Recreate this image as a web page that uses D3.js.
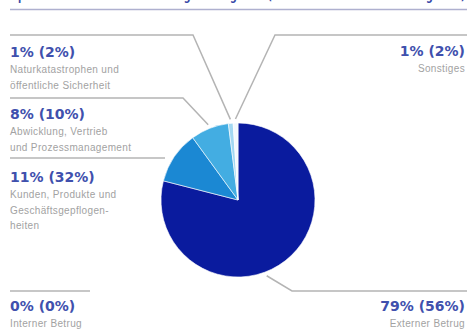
<!DOCTYPE html>
<html>
<head>
<meta charset="utf-8">
<script src="https://cdn.jsdelivr.net/npm/d3@7"></script>
<style>
  body { margin: 0; background: #fff; }
  svg { display: block; }
</style>
</head>
<body>
<script>
// categories in pie order, clockwise from 12 o'clock
var categories = [
    "Externer Betrug",
    "Interner Betrug",
    "Kunden, Produkte und Geschäftsgepflogenheiten",
    "Abwicklung, Vertrieb und Prozessmanagement",
    "Naturkatastrophen und öffentliche Sicherheit",
    "Sonstiges"
];
// share of losses (slice size) and share of events (in brackets)
var lossShare = [79, 0, 11, 8, 1, 1];
var eventShare = [56, 0, 32, 10, 2, 2];
// label text broken the way the original wraps it
var labelLines = [
    ["Externer Betrug"],
    ["Interner Betrug"],
    ["Kunden, Produkte und", "Geschäftsgepflogen-", "heiten"],
    ["Abwicklung, Vertrieb", "und Prozessmanagement"],
    ["Naturkatastrophen und", "öffentliche Sicherheit"],
    ["Sonstiges"]
];
var title = "Operationelle Verluste nach Ereigniskategorien (Anteil an der Anzahl der Ereignisse)";

var w = 467;
var h = 334;
var cx = 238, cy = 200, r = 77;

var colors = ["#0a1b9e", "#0a1b9e", "#1b88d3", "#43ade2", "#a2d8f2", "#f2f9fd"];

// where each label block sits (layout only)
var layout = [
    { side: "right", y: 311, lineY: 291, lineEnd: 292, elbow: [292, 291], at: 0.56 },
    { side: "left",  y: 311, lineY: 291, lineEnd: 90,  elbow: null,       at: 0.5 },
    { side: "left",  y: 182, lineY: 158, lineEnd: null, elbow: null,      at: 0.5 },
    { side: "left",  y: 119, lineY: 98,  lineEnd: 183, elbow: [183, 98],  at: 0.5 },
    { side: "left",  y: 57,  lineY: 35,  lineEnd: 193, elbow: [193, 35],  at: 0.5 },
    { side: "right", y: 56,  lineY: 35,  lineEnd: 275, elbow: [275, 35],  at: 0.5 }
];

var svg = d3.select("body").append("svg")
    .attr("width", w)
    .attr("height", h);

// title, cropped off at the top like the original
svg.append("text")
    .attr("x", 10)
    .attr("y", 0)
    .attr("textLength", 455)
    .attr("lengthAdjust", "spacingAndGlyphs")
    .attr("font-family", "DejaVu Sans")
    .attr("font-weight", "bold")
    .attr("font-size", "13px")
    .attr("fill", "#3a4aa8")
    .text(title);

svg.append("line")
    .attr("x1", 10).attr("x2", w)
    .attr("y1", 9.5).attr("y2", 9.5)
    .attr("stroke", "#aeb0cf")
    .attr("stroke-width", 1.5);

var pie = d3.pie().sort(null).value(function(d) { return d; });
var arcs = pie(lossShare);

var arc = d3.arc().innerRadius(0).outerRadius(r);

// point on the rim used by the leader lines
function anchor(d, i) {
    var a = d.startAngle + (d.endAngle - d.startAngle) * layout[i].at;
    var rr = r + 4;
    return [cx + rr * Math.sin(a), cy - rr * Math.cos(a)];
}

// leader lines (under the pie)
var leaders = svg.append("g")
    .attr("fill", "none")
    .attr("stroke", "#b4b4b4")
    .attr("stroke-width", 1.5);

arcs.forEach(function(d, i) {
    var L = layout[i];
    var pts;
    if (i === 1) {
        pts = [[10, L.lineY], [L.lineEnd, L.lineY]];
    } else if (L.side === "left") {
        var p = anchor(d, i);
        if (L.elbow) pts = [[10, L.lineY], L.elbow, p];
        else pts = [[10, L.lineY], [p[0] - 6, L.lineY]];
    } else {
        var p = anchor(d, i);
        pts = [[w, L.lineY], L.elbow, p];
    }
    leaders.append("path").attr("d", d3.line()(pts));
});

var g = svg.append("g")
    .attr("transform", "translate(" + cx + "," + cy + ")");

g.selectAll("path")
    .data(arcs)
    .enter()
    .append("path")
    .attr("d", arc)
    .attr("fill", function(d, i) { return colors[i]; })
    .attr("stroke", "#fff")
    .attr("stroke-width", function(d) { return d.value > 0 ? 0.6 : 0; });

// label blocks
var labels = svg.selectAll("g.label")
    .data(categories)
    .enter()
    .append("g")
    .attr("class", "label")
    .attr("text-anchor", function(d, i) { return layout[i].side === "left" ? "start" : "end"; })
    .attr("transform", function(d, i) {
        return "translate(" + (layout[i].side === "left" ? 10 : 465) + "," + layout[i].y + ")";
    });

labels.append("text")
    .attr("font-family", "DejaVu Sans")
    .attr("font-weight", "bold")
    .attr("font-size", "14px")
    .attr("fill", "#4050ad")
    .text(function(d, i) { return lossShare[i] + "% (" + eventShare[i] + "%)"; });

labels.each(function(d, i) {
    var t = d3.select(this).append("text")
        .attr("font-family", "Liberation Sans, Arial, sans-serif")
        .attr("font-size", "10px")
        .attr("letter-spacing", "0.35px")
        .attr("fill", "#a2a2a2");
    labelLines[i].forEach(function(line, k) {
        t.append("tspan")
            .attr("x", 0)
            .attr("y", 16 + k * 15.5)
            .text(line);
    });
});
</script>
</body>
</html>
